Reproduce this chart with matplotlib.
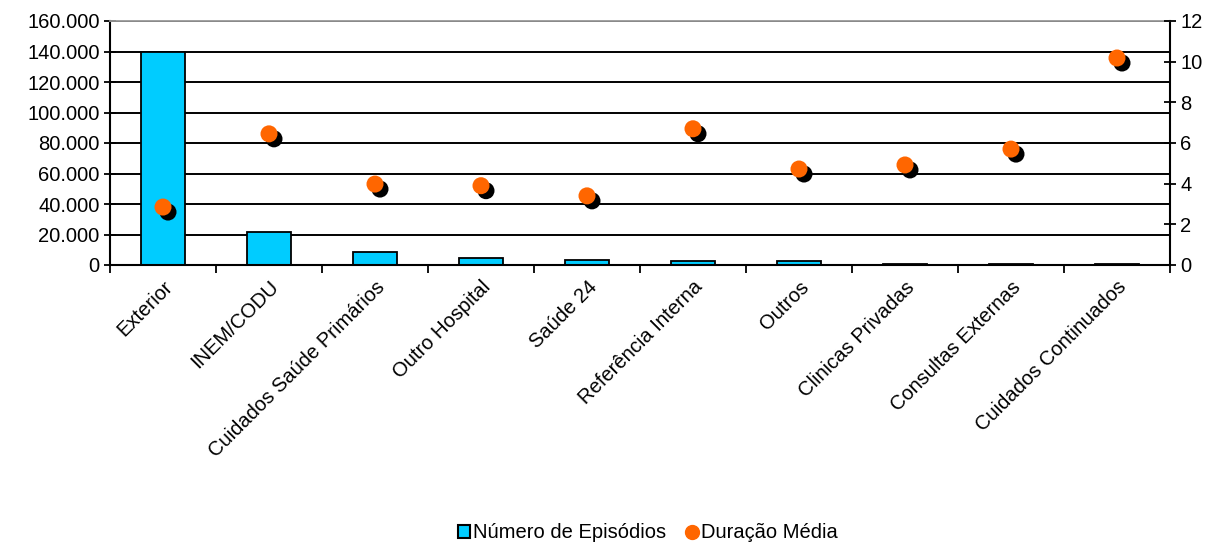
import numpy as np
import matplotlib.pyplot as plt
from matplotlib.ticker import FuncFormatter, MultipleLocator
from matplotlib.transforms import offset_copy

plt.rcParams['font.family'] = ['Liberation Sans', 'DejaVu Sans']

categorias = ["Exterior", "INEM/CODU", "Cuidados Saúde Primários", "Outro Hospital",
              "Saúde 24", "Referência Interna", "Outros", "Clinicas Privadas",
              "Consultas Externas", "Cuidados Continuados"]
episodios = [140000, 21500, 8500, 4600, 3300, 2300, 2300, 600, 600, 600]
duracao = [2.85, 6.45, 3.98, 3.9, 3.4, 6.7, 4.72, 4.92, 5.7, 10.18]

x = np.arange(len(categorias))

fig = plt.figure(figsize=(12.18, 5.43), dpi=100)
ax1 = fig.add_axes([110 / 1218, 1 - 265 / 543, 1060 / 1218, 244 / 543])
ax1.set_zorder(1)

for y in range(20000, 160001, 20000):
    ax1.axhline(y, color="black", lw=1.4, zorder=0)

ax1.bar(x, episodios, width=0.42, color="#00CCFF", edgecolor="black", lw=1.3, zorder=2)
ax1.set_xlim(-0.5, len(categorias) - 0.5)
ax1.set_ylim(0, 160000)
ax1.yaxis.set_major_locator(MultipleLocator(20000))
ax1.yaxis.set_major_formatter(FuncFormatter(lambda v, p: f"{int(v):,}".replace(",", ".")))
ax1.tick_params(axis="y", direction="inout", length=9, width=1.3, labelsize=14.5, pad=3)

ax1.set_xticks(x)
ax1.set_xticklabels(categorias, rotation=45, ha="right", rotation_mode="anchor", fontsize=14.5)
ax1.tick_params(axis="x", which="major", length=0, pad=9)
ax1.set_xticks(np.arange(-0.5, len(categorias), 1), minor=True)
ax1.tick_params(axis="x", which="minor", direction="out", length=6, width=1.3)

ax1.spines["top"].set_color("#999999")
ax1.spines["top"].set_linewidth(1.3)
for s in ["left", "bottom", "right"]:
    ax1.spines[s].set_linewidth(1.5)

ax2 = ax1.twinx()
ax2.set_ylim(0, 12)
ax2.yaxis.set_major_locator(MultipleLocator(2))
ax2.tick_params(axis="y", direction="inout", length=9, width=1.3, labelsize=14.5, pad=3)
for s in ax2.spines.values():
    s.set_visible(False)

# sombra preta e marcador laranja
dur_esc = [d * 160000 / 12 for d in duracao]
sombra = offset_copy(ax1.transData, fig=fig, x=5, y=-5, units="dots")
ax1.scatter(x, dur_esc, s=150, color="black", zorder=3, edgecolor="none", transform=sombra)
ax1.scatter(x, dur_esc, s=150, color="#FF6600", zorder=4, edgecolor="none")

# legenda
h1 = plt.Rectangle((0, 0), 1, 1, facecolor="#00CCFF", edgecolor="black", lw=1.5)
h2 = plt.Line2D([], [], marker="o", color="#FF6600", ls="none", markersize=10)
fig.legend([h1, h2], ["Número de Episódios", "Duração Média"], loc="center",
           bbox_to_anchor=(648 / 1218, 1 - 533 / 543), ncol=2, frameon=False, fontsize=14.5,
           handlelength=0.6, handleheight=0.6, handletextpad=0.15, columnspacing=1.0)

fig.savefig("out.png", dpi=100)
